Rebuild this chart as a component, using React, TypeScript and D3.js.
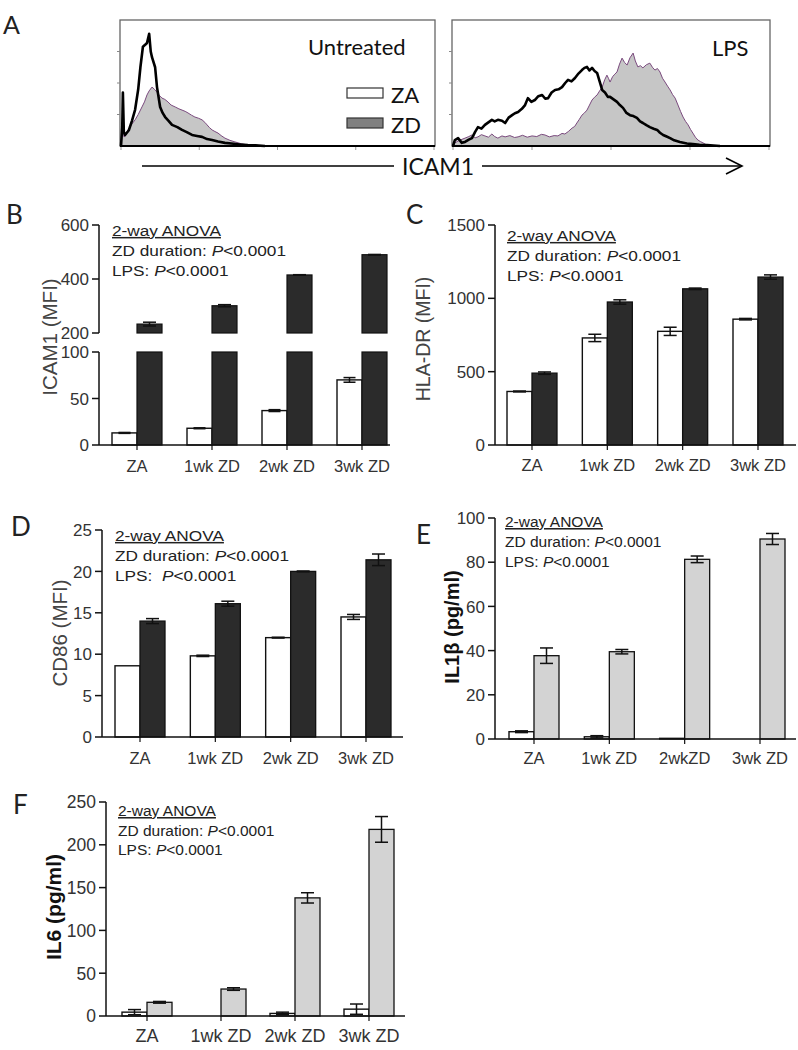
import React from 'react';
import * as d3 from 'd3';

// ---------- Panel A: histograms (x = channel 0..1000, y = count 0..400) ----------
const histUntreatedZA: [number, number][] = [[0,0],[4,60],[6,170],[9,45],[13,35],[25,50],[35,80],[45,115],[55,180],[62,250],[70,315],[78,322],[83,327],[90,356],[95,300],[99,282],[109,250],[115,187],[125,124],[133,105],[141,92],[152,80],[163,67],[180,60],[195,51],[210,44],[227,35],[243,32],[259,29],[275,22],[291,19],[310,14],[332,10],[360,7],[380,5],[405,3],[430,2],[460,0]];
const histUntreatedZD: [number, number][] = [[0,0],[4,40],[6,150],[9,30],[13,30],[22,51],[35,70],[45,83],[55,100],[67,124],[75,140],[83,162],[90,175],[99,187],[107,180],[115,171],[123,160],[131,152],[140,148],[150,140],[160,130],[173,124],[185,118],[195,114],[205,110],[214,105],[225,98],[236,92],[248,88],[259,83],[268,75],[275,67],[283,58],[291,51],[300,46],[310,41],[320,33],[332,25],[348,18],[364,13],[385,7],[406,3],[430,1],[460,0]];
const histLpsZA: [number, number][] = [[0,0],[6,19],[16,25],[28,10],[38,13],[50,20],[60,25],[70,45],[79,60],[90,55],[101,67],[112,75],[123,83],[132,78],[142,83],[155,80],[165,73],[176,90],[187,98],[196,104],[206,108],[218,118],[228,130],[237,152],[248,140],[259,146],[270,158],[282,162],[292,150],[301,152],[312,170],[323,178],[334,180],[345,187],[355,200],[364,210],[375,205],[386,216],[397,230],[408,241],[416,248],[424,251],[432,240],[440,248],[448,238],[456,232],[464,205],[472,178],[481,170],[490,156],[497,156],[508,148],[519,140],[528,130],[538,121],[549,105],[560,98],[571,95],[582,89],[592,78],[601,73],[612,66],[623,60],[635,55],[646,51],[655,42],[665,35],[676,30],[687,25],[700,18],[718,13],[740,8],[759,6],[780,4],[804,3],[845,0]];
const histLpsZD: [number, number][] = [[0,0],[6,10],[20,18],[38,25],[50,30],[60,35],[70,26],[79,29],[90,36],[101,32],[112,28],[123,38],[132,30],[142,25],[155,32],[165,29],[180,33],[195,27],[206,29],[220,34],[235,28],[250,32],[265,30],[280,37],[291,35],[305,29],[320,33],[332,32],[345,40],[354,38],[365,46],[377,57],[385,62],[392,73],[400,85],[408,98],[416,105],[424,114],[432,130],[440,146],[448,155],[456,162],[464,175],[472,187],[480,210],[487,225],[492,215],[497,203],[505,220],[512,228],[519,235],[527,260],[535,279],[543,265],[551,257],[560,280],[570,295],[577,270],[585,251],[593,255],[601,248],[612,258],[623,263],[631,250],[639,241],[647,246],[655,235],[663,215],[671,203],[679,190],[687,178],[695,163],[703,152],[712,130],[720,110],[728,92],[736,78],[744,67],[752,52],[759,41],[767,28],[775,19],[783,14],[791,10],[800,5],[813,0]];
const histYTicks = [100, 200, 300];
const histXTicks = [0, 250, 500, 750, 1000];

// ---------- Shared categories ----------
const categories = ['ZA', '1wk ZD', '2wk ZD', '3wk ZD'];
const categoriesE = ['ZA', '1wk ZD', '2wkZD', '3wk ZD'];

// ---------- Panel B: ICAM1 (MFI) ----------
const icamUntreated = [13, 18, 37, 70];
const icamUntreatedErr = [0.5, 0.5, 1, 2.5];
const icamLPS = [233, 301, 415, 490];
const icamLPSErr = [7, 4, 1, 1];
const icamTicksLow = [0, 50, 100];
const icamTicksHigh = [200, 400, 600];

// ---------- Panel C: HLA-DR (MFI) ----------
const hladrUntreated = [365, 730, 775, 858];
const hladrUntreatedErr = [3, 25, 28, 5];
const hladrLPS = [490, 975, 1065, 1145];
const hladrLPSErr = [8, 15, 5, 15];
const hladrTicks = [0, 500, 1000, 1500];

// ---------- Panel D: CD86 (MFI) ----------
const cd86Untreated = [8.6, 9.8, 12.0, 14.5];
const cd86UntreatedErr = [0, 0.08, 0.05, 0.3];
const cd86LPS = [14.0, 16.1, 20.0, 21.4];
const cd86LPSErr = [0.3, 0.3, 0.05, 0.7];
const cd86Ticks = [0, 5, 10, 15, 20, 25];

// ---------- Panel E: IL1β (pg/ml) ----------
const il1bUntreated = [3.3, 1.0, 0.3, 0];
const il1bUntreatedErr = [0.4, 0.5, 0, 0];
const il1bLPS = [37.7, 39.5, 81.3, 90.5];
const il1bLPSErr = [3.5, 1.0, 1.5, 2.5];
const il1bTicks = [0, 20, 40, 60, 80, 100];

// ---------- Panel F: IL6 (pg/ml) ----------
const il6Untreated = [4.5, 0, 3, 8];
const il6UntreatedErr = [3, 0, 1.5, 6];
const il6LPS = [16, 31.5, 138, 218];
const il6LPSErr = [1, 1.5, 6, 15];
const il6Ticks = [0, 50, 100, 150, 200, 250];

const ARIAL = "'Liberation Sans', Arial, sans-serif";
const HUMAN = "Lato, 'Open Sans', sans-serif";

function ErrBar({ x, y, e, cap, yS }: any) {
  if (!e) return null;
  return (
    <g stroke="#111" strokeWidth={1.5}>
      <line x1={x} x2={x} y1={yS(y - e)} y2={yS(y + e)} />
      <line x1={x - cap / 2} x2={x + cap / 2} y1={yS(y + e)} y2={yS(y + e)} />
      <line x1={x - cap / 2} x2={x + cap / 2} y1={yS(y - e)} y2={yS(y - e)} />
    </g>
  );
}

function Anova({ x, y, size, sx, gap, lpsLabel }: any) {
  return (
    <g transform={`translate(${x},${y}) scale(${sx},1)`} fontFamily={ARIAL} fontSize={size} fill="#222">
      <text x={0} y={0} textDecoration="underline">2-way ANOVA</text>
      <text x={0} y={gap}>ZD duration:{' '}<tspan fontStyle="italic">P</tspan>{'<0.0001'}</text>
      <text x={0} y={gap * 2}>{lpsLabel}<tspan fontStyle="italic">P</tspan>{'<0.0001'}</text>
    </g>
  );
}

function PanelA() {
  const yH = d3.scaleLinear().domain([0, 400]).range([146, 20]);
  const boxes = [
    { x0: 121, x1: 434, za: histUntreatedZA, zd: histUntreatedZD },
    { x0: 453, x1: 769, za: histLpsZA, zd: histLpsZD },
  ];
  return (
    <g>
      <text x={3} y={34} fontFamily={HUMAN} fontSize={25} fill="#222">A</text>
      {boxes.map((b, i) => {
        const xH = d3.scaleLinear().domain([0, 1000]).range([b.x0, b.x1]);
        const area = d3.area<[number, number]>().x(d => xH(d[0])).y0(yH(0)).y1(d => yH(d[1]));
        const line = d3.line<[number, number]>().x(d => xH(d[0])).y(d => yH(d[1]));
        return (
          <g key={i}>
            <rect x={b.x0 - 1} y={20} width={b.x1 - b.x0 + 2} height={126} fill="#fff" stroke="#666" strokeWidth={1.3} />
            {histYTicks.map(t => (
              <line key={t} x1={b.x0 - 4} x2={b.x0 - 1} y1={yH(t)} y2={yH(t)} stroke="#888" strokeWidth={1} />
            ))}
            {histXTicks.map(t => (
              <line key={t} x1={xH(t)} x2={xH(t)} y1={147} y2={150} stroke="#999" strokeWidth={1} />
            ))}
            <path d={area(b.zd) || ''} fill="#c6c6c6" />
            <path d={line(b.zd) || ''} fill="none" stroke="#7a4a7e" strokeWidth={1} />
            <path d={line(b.za) || ''} fill="none" stroke="#000" strokeWidth={2.6} strokeLinejoin="round" />
            <line x1={b.x0 - 1} x2={b.x1 + 1} y1={146} y2={146} stroke="#000" strokeWidth={2.2} />
          </g>
        );
      })}
      <text x={308} y={55} fontFamily={HUMAN} fontSize={22} fill="#111">Untreated</text>
      <text x={712} y={56} fontFamily={HUMAN} fontSize={22} fill="#111">LPS</text>
      <rect x={347} y={88} width={36} height={10} fill="#fff" stroke="#333" strokeWidth={1.2} />
      <rect x={347} y={118} width={36} height={10} fill="#808080" stroke="#333" strokeWidth={1.2} />
      <text x={391} y={103} fontFamily={HUMAN} fontSize={22} fill="#111">ZA</text>
      <text x={391} y={133} fontFamily={HUMAN} fontSize={22} fill="#111">ZD</text>
      <line x1={142} x2={394} y1={166} y2={166} stroke="#000" strokeWidth={1.6} />
      <text x={402} y={175} fontFamily={HUMAN} fontSize={23} fill="#111">ICAM1</text>
      <line x1={482} x2={742} y1={166} y2={166} stroke="#000" strokeWidth={1.6} />
      <polyline points="726,158 742,166 726,174" fill="none" stroke="#000" strokeWidth={1.6} />
    </g>
  );
}

function PanelB() {
  const axisX = 99, axisEnd = 390, barW = 25;
  const x = d3.scalePoint<string>().domain(categories).range([137, 362]);
  const yLow = d3.scaleLinear().domain([0, 100]).range([445, 352]);
  const yHigh = d3.scaleLinear().domain([200, 600]).range([333, 225]);
  const dark = '#2b2b2b';
  return (
    <g>
      <text x={6} y={224} fontFamily={HUMAN} fontSize={26} fill="#222">B</text>
      {categories.map((c, i) => {
        const cx = x(c)!;
        const u = icamUntreated[i], l = icamLPS[i];
        return (
          <g key={c}>
            <rect x={cx - barW} y={yLow(u)} width={barW} height={yLow(0) - yLow(u)} fill="#fff" stroke="#111" strokeWidth={1.4} />
            <ErrBar x={cx - barW / 2} y={u} e={icamUntreatedErr[i]} cap={12} yS={yLow} />
            <rect x={cx} y={yLow(100)} width={barW} height={yLow(0) - yLow(100)} fill={dark} stroke="#111" strokeWidth={1.2} />
            <rect x={cx} y={yHigh(l)} width={barW} height={yHigh(200) - yHigh(l)} fill={dark} stroke="#111" strokeWidth={1.2} />
            <ErrBar x={cx + barW / 2} y={l} e={icamLPSErr[i]} cap={13} yS={yHigh} />
            <line x1={cx} x2={cx} y1={445} y2={450} stroke="#111" strokeWidth={1.2} />
            <text x={cx} y={472} textAnchor="middle" fontFamily={ARIAL} fontSize={16.5} fill="#333">{c}</text>
          </g>
        );
      })}
      <g stroke="#111" strokeWidth={1.5}>
        <line x1={axisX} x2={axisX} y1={yLow(0)} y2={yLow(100)} />
        <line x1={axisX} x2={axisX} y1={yHigh(200)} y2={yHigh(600)} />
        <line x1={axisX} x2={axisEnd} y1={yLow(0)} y2={yLow(0)} />
        {icamTicksLow.map(t => <line key={'l' + t} x1={axisX - 7} x2={axisX} y1={yLow(t)} y2={yLow(t)} />)}
        {icamTicksHigh.map(t => <line key={'h' + t} x1={axisX - 7} x2={axisX} y1={yHigh(t)} y2={yHigh(t)} />)}
      </g>
      <g fontFamily={ARIAL} fontSize={17} fill="#333" textAnchor="end">
        {icamTicksLow.map(t => <text key={'l' + t} x={axisX - 10} y={yLow(t)} dy="0.36em">{t}</text>)}
        {icamTicksHigh.map(t => <text key={'h' + t} x={axisX - 10} y={yHigh(t)} dy="0.36em">{t}</text>)}
      </g>
      <text transform="translate(50,337) rotate(-90)" textAnchor="middle" dy="0.35em" fontFamily={ARIAL} fontSize={20.5} fill="#444">ICAM1 (MFI)</text>
      <Anova x={112} y={236} size={15} sx={1.15} gap={20} lpsLabel="LPS: " />
    </g>
  );
}

function StdPanel({ cfg }: any) {
  const x = d3.scalePoint<string>().domain(cfg.cats).range([cfg.c0, cfg.c1]);
  const y = d3.scaleLinear().domain([0, cfg.max]).range([cfg.y0, cfg.yTop]);
  const bw = cfg.barW;
  return (
    <g>
      <text x={cfg.letterX} y={cfg.letterY} fontFamily={HUMAN} fontSize={26} fill="#222">{cfg.letter}</text>
      {cfg.cats.map((c: string, i: number) => {
        const cx = x(c)!;
        const u = cfg.u[i], l = cfg.l[i];
        return (
          <g key={c}>
            {(u > 0 || cfg.uErr[i] > 0) && (
              <rect x={cx - bw} y={y(u)} width={bw} height={y(0) - y(u)} fill="#fff" stroke="#111" strokeWidth={1.4} />
            )}
            <ErrBar x={cx - bw / 2} y={u} e={cfg.uErr[i]} cap={cfg.cap} yS={y} />
            <rect x={cx} y={y(l)} width={bw} height={y(0) - y(l)} fill={cfg.lpsColor} stroke="#111" strokeWidth={1.3} />
            <ErrBar x={cx + bw / 2} y={l} e={cfg.lErr[i]} cap={cfg.cap} yS={y} />
            <line x1={cx} x2={cx} y1={cfg.y0} y2={cfg.y0 + 5} stroke="#111" strokeWidth={1.2} />
            <text x={cx} y={cfg.catY} textAnchor="middle" fontFamily={ARIAL} fontSize={cfg.catSize} fill="#333">{c}</text>
          </g>
        );
      })}
      <g stroke="#111" strokeWidth={1.5}>
        <line x1={cfg.axisX} x2={cfg.axisX} y1={y(0)} y2={y(cfg.max)} />
        <line x1={cfg.axisX} x2={cfg.axisEnd} y1={y(0)} y2={y(0)} />
        {cfg.ticks.map((t: number) => <line key={t} x1={cfg.axisX - 7} x2={cfg.axisX} y1={y(t)} y2={y(t)} />)}
      </g>
      <g fontFamily={ARIAL} fontSize={cfg.tickSize} fill="#333" textAnchor="end">
        {cfg.ticks.map((t: number) => <text key={t} x={cfg.axisX - 10} y={y(t)} dy="0.36em">{t}</text>)}
      </g>
      <text transform={`translate(${cfg.titleX},${cfg.titleY}) rotate(-90)`} textAnchor="middle" dy="0.35em"
        fontFamily={ARIAL} fontSize={cfg.titleSize} fontWeight={cfg.titleBold ? 'bold' : 'normal'} fill={cfg.titleColor}>{cfg.title}</text>
      <Anova x={cfg.annX} y={cfg.annY} size={cfg.annSize} sx={cfg.annSx} gap={cfg.annGap} lpsLabel={cfg.lpsLabel} />
    </g>
  );
}

const cfgC = {
  letter: 'C', letterX: 406, letterY: 224,
  cats: categories, u: hladrUntreated, uErr: hladrUntreatedErr, l: hladrLPS, lErr: hladrLPSErr,
  ticks: hladrTicks, max: 1500, axisX: 495, axisEnd: 796, c0: 532, c1: 758, y0: 445, yTop: 225,
  barW: 25, cap: 13, lpsColor: '#2b2b2b', catY: 471, catSize: 16.5, tickSize: 17,
  title: 'HLA-DR (MFI)', titleX: 423, titleY: 339, titleSize: 19.5, titleBold: false, titleColor: '#444',
  annX: 507, annY: 241, annSize: 15, annSx: 1.15, annGap: 20, lpsLabel: 'LPS: ',
};
const cfgD = {
  letter: 'D', letterX: 11, letterY: 536,
  cats: categories, u: cd86Untreated, uErr: cd86UntreatedErr, l: cd86LPS, lErr: cd86LPSErr,
  ticks: cd86Ticks, max: 25, axisX: 102, axisEnd: 403, c0: 140, c1: 366, y0: 737, yTop: 530,
  barW: 25, cap: 13, lpsColor: '#2b2b2b', catY: 764, catSize: 16.5, tickSize: 17,
  title: 'CD86 (MFI)', titleX: 60, titleY: 633, titleSize: 20.5, titleBold: false, titleColor: '#444',
  annX: 115, annY: 541, annSize: 15, annSx: 1.15, annGap: 20, lpsLabel: 'LPS:\u00a0 ',
};
const cfgE = {
  letter: 'E', letterX: 416, letterY: 544,
  cats: categoriesE, u: il1bUntreated, uErr: il1bUntreatedErr, l: il1bLPS, lErr: il1bLPSErr,
  ticks: il1bTicks, max: 100, axisX: 495, axisEnd: 796, c0: 534, c1: 760, y0: 739, yTop: 518,
  barW: 25, cap: 13, lpsColor: '#d3d3d3', catY: 764, catSize: 16.5, tickSize: 17,
  title: 'IL1β (pg/ml)', titleX: 452, titleY: 627, titleSize: 20, titleBold: true, titleColor: '#111',
  annX: 505, annY: 527, annSize: 15.5, annSx: 1, annGap: 20, lpsLabel: 'LPS: ',
};
const cfgF = {
  letter: 'F', letterX: 13, letterY: 814,
  cats: categories, u: il6Untreated, uErr: il6UntreatedErr, l: il6LPS, lErr: il6LPSErr,
  ticks: il6Ticks, max: 250, axisX: 106, axisEnd: 405, c0: 147, c1: 369, y0: 1016, yTop: 802,
  barW: 25, cap: 13, lpsColor: '#d3d3d3', catY: 1042, catSize: 18, tickSize: 17.5,
  title: 'IL6 (pg/ml)', titleX: 54, titleY: 907, titleSize: 21, titleBold: true, titleColor: '#111',
  annX: 118, annY: 816, annSize: 15.5, annSx: 1, annGap: 19.5, lpsLabel: 'LPS: ',
};

export default function App() {
  return (
    <svg width={798} height={1050} style={{ position: 'absolute', left: 0, top: 0, display: 'block' }}>
      <rect width={798} height={1050} fill="#fff" />
      <PanelA />
      <PanelB />
      <StdPanel cfg={cfgC} />
      <StdPanel cfg={cfgD} />
      <StdPanel cfg={cfgE} />
      <StdPanel cfg={cfgF} />
    </svg>
  );
}
